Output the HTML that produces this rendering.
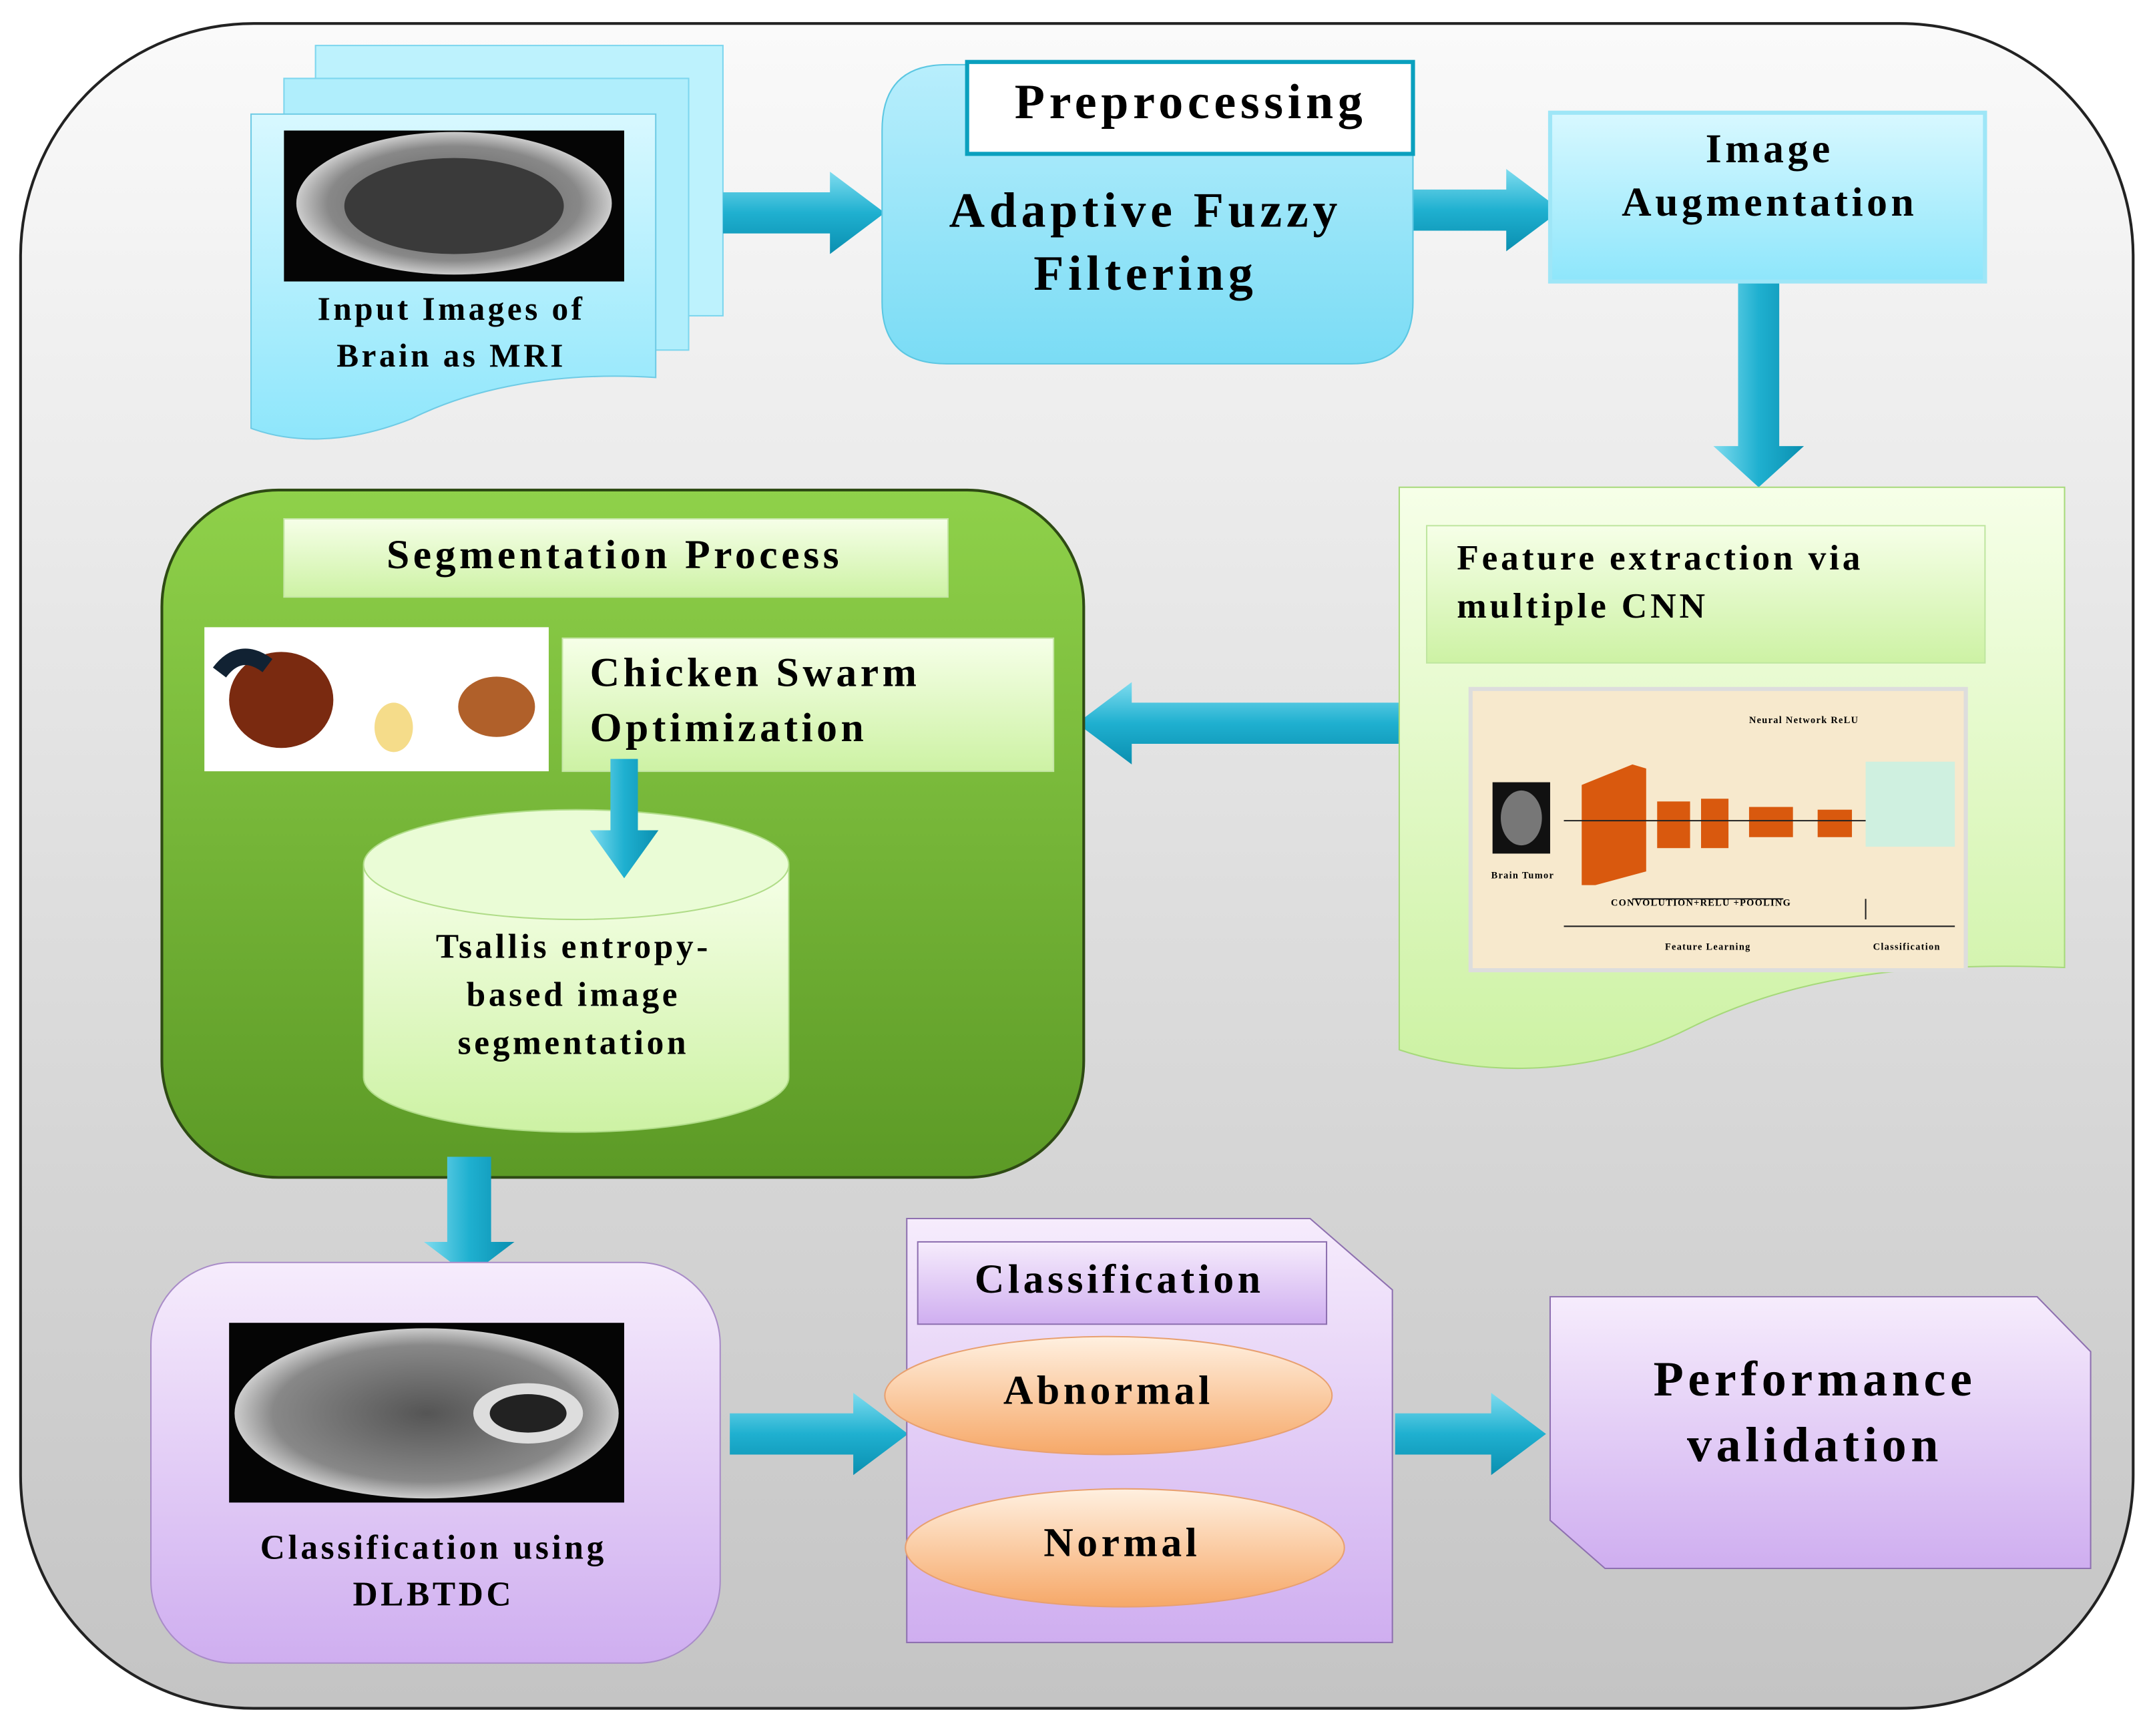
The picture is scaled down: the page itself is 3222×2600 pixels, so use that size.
<!DOCTYPE html>
<html><head><meta charset="utf-8"><style>html,body{margin:0;padding:0;background:#fff}svg{display:block}svg text{letter-spacing:0.09em}</style></head><body>
<svg width="3222" height="2600" viewBox="0 0 1568 1265" xmlns="http://www.w3.org/2000/svg" font-family="'Liberation Serif',serif" font-weight="bold">
<defs>
<linearGradient id="bg" x1="0" y1="0" x2="0" y2="1"><stop offset="0" stop-color="#fafafa"/><stop offset="1" stop-color="#c4c4c4"/></linearGradient>
<linearGradient id="cy" x1="0" y1="0" x2="0" y2="1"><stop offset="0" stop-color="#d8f8ff"/><stop offset="1" stop-color="#8ee6fb"/></linearGradient>
<linearGradient id="cy2" x1="0" y1="0" x2="0" y2="1"><stop offset="0" stop-color="#b8eefc"/><stop offset="1" stop-color="#7adcf5"/></linearGradient>
<linearGradient id="arh" x1="0" y1="0" x2="0" y2="1"><stop offset="0" stop-color="#7fdcef"/><stop offset="0.5" stop-color="#1fb0d0"/><stop offset="1" stop-color="#0a8fb0"/></linearGradient>
<linearGradient id="arv" x1="0" y1="0" x2="1" y2="0"><stop offset="0" stop-color="#7fdcef"/><stop offset="0.5" stop-color="#1fb0d0"/><stop offset="1" stop-color="#0a8fb0"/></linearGradient>
<linearGradient id="lg" x1="0" y1="0" x2="0" y2="1"><stop offset="0" stop-color="#f6ffe8"/><stop offset="1" stop-color="#cdf2a4"/></linearGradient>
<linearGradient id="gr" x1="0" y1="0" x2="0" y2="1"><stop offset="0" stop-color="#8fd14a"/><stop offset="1" stop-color="#5c9a26"/></linearGradient>
<linearGradient id="pu" x1="0" y1="0" x2="0" y2="1"><stop offset="0" stop-color="#f6ecfc"/><stop offset="1" stop-color="#cfaef0"/></linearGradient>
<linearGradient id="or" x1="0" y1="0" x2="0" y2="1"><stop offset="0" stop-color="#fff0e0"/><stop offset="1" stop-color="#f6a868"/></linearGradient>
<radialGradient id="brain" cx="0.5" cy="0.5" r="0.5"><stop offset="0" stop-color="#555"/><stop offset="0.8" stop-color="#888"/><stop offset="1" stop-color="#ccc"/></radialGradient>
</defs>
<rect x="15" y="17" width="1540" height="1228" rx="170" fill="url(#bg)" stroke="#222" stroke-width="2"/>

<rect x="230" y="33" width="297" height="197" fill="#bdf2fd" stroke="#7dd6ee"/>
<rect x="207" y="57" width="295" height="198" fill="#b0eefc" stroke="#7dd6ee"/>
<path d="M183 83 H478 V275 C400 270 340 285 300 305 C250 325 210 322 183 312 Z" fill="url(#cy)" stroke="#6fcbe5"/>
<rect x="207" y="95" width="248" height="110" fill="#050505"/>
<ellipse cx="331" cy="148" rx="115" ry="52" fill="url(#brain)"/>
<ellipse cx="331" cy="150" rx="80" ry="35" fill="#3a3a3a"/>
<text x="329" y="233" font-size="24" text-anchor="middle">Input  Images of</text>
<text x="329" y="267" font-size="24" text-anchor="middle">Brain  as MRI</text>

<polygon points="527,140 605,140 605,125 645,155 605,185 605,170 527,170" fill="url(#arh)"/>
<polygon points="1030,138 1098,138 1098,123 1138,153 1098,183 1098,168 1030,168" fill="url(#arh)"/>
<polygon points="1267,205 1297,205 1297,325 1315,325 1282,355 1249,325 1267,325" fill="url(#arv)"/>
<polygon points="1022,512 825,512 825,497 785,527 825,557 825,542 1022,542" fill="url(#arh)"/>

<path d="M643 95 Q643 47 690 47 H1030 V220 Q1030 265 985 265 H690 Q643 265 643 220 Z" fill="url(#cy2)" stroke="#5cc7e2"/>
<rect x="705" y="45" width="325" height="67" fill="#fff" stroke="#0aa0be" stroke-width="3"/>
<text x="868" y="86" font-size="36" text-anchor="middle">Preprocessing</text>
<text x="835" y="165" font-size="36" text-anchor="middle">Adaptive Fuzzy</text>
<text x="835" y="211" font-size="36" text-anchor="middle">Filtering</text>

<rect x="1130" y="82" width="317" height="123" fill="url(#cy)" stroke="#9ee6f7" stroke-width="3"/>
<text x="1290" y="118" font-size="30" text-anchor="middle">Image</text>
<text x="1290" y="157" font-size="30" text-anchor="middle">Augmentation</text>

<path d="M1020 355 H1505 V705 C1380 700 1300 715 1230 750 C1160 785 1080 785 1020 765 Z" fill="url(#lg)" stroke="#a6d97a"/>
<rect x="1040" y="383" width="407" height="100" fill="url(#lg)" stroke="#bfe6a0"/>
<text x="1062" y="415" font-size="26">Feature extraction via</text>
<text x="1062" y="450" font-size="26">multiple  CNN</text>
<rect x="1072" y="502" width="361" height="205" fill="#f7e9cd" stroke="#ddd" stroke-width="3"/>
<rect x="1088" y="570" width="42" height="52" fill="#111"/>
<ellipse cx="1109" cy="596" rx="15" ry="20" fill="#777"/>
<polygon points="1153,572 1190,557 1200,560 1200,635 1163,645 1153,645" fill="#d9590e"/>
<rect x="1208" y="584" width="24" height="34" fill="#d9590e"/>
<rect x="1240" y="582" width="20" height="36" fill="#d9590e"/>
<rect x="1275" y="588" width="32" height="22" fill="#d9590e"/>
<rect x="1325" y="590" width="25" height="20" fill="#d9590e"/>
<rect x="1360" y="555" width="65" height="62" fill="#cff0e0"/>
<line x1="1140" y1="598" x2="1360" y2="598" stroke="#222"/>
<path d="M1140 675 H1425 M1190 655 H1300 M1360 655 V670" stroke="#222" fill="none"/>
<text x="1110" y="640" font-size="7" text-anchor="middle">Brain Tumor</text>
<text x="1240" y="660" font-size="7" text-anchor="middle">CONVOLUTION+RELU +POOLING</text>
<text x="1245" y="692" font-size="7" text-anchor="middle">Feature Learning</text>
<text x="1390" y="692" font-size="7" text-anchor="middle">Classification</text>
<text x="1315" y="527" font-size="7" text-anchor="middle">Neural Network ReLU</text>

<rect x="118" y="357" width="672" height="501" rx="85" fill="url(#gr)" stroke="#2e4a14" stroke-width="2"/>
<rect x="207" y="378" width="484" height="57" fill="url(#lg)" stroke="#c5e6a6"/>
<text x="448" y="414" font-size="30" text-anchor="middle">Segmentation Process</text>
<rect x="149" y="457" width="251" height="105" fill="#fff"/>
<ellipse cx="205" cy="510" rx="38" ry="35" fill="#7a2a10"/>
<path d="M160 490 Q175 470 195 485" stroke="#123" stroke-width="12" fill="none"/>
<ellipse cx="287" cy="530" rx="14" ry="18" fill="#f5dc8a"/>
<ellipse cx="362" cy="515" rx="28" ry="22" fill="#b0602a"/>
<rect x="410" y="465" width="358" height="97" fill="url(#lg)" stroke="#c5e6a6"/>
<text x="430" y="500" font-size="30">Chicken Swarm</text>
<text x="430" y="540" font-size="30">Optimization</text>
<path d="M265 630 V785 A155 40 0 0 0 575 785 V630" fill="url(#lg)" stroke="#b0dc88"/>
<ellipse cx="420" cy="630" rx="155" ry="40" fill="#eafcd6" stroke="#b0dc88"/>
<polygon points="445,553 465,553 465,605 480,605 455,640 430,605 445,605" fill="url(#arv)"/>
<text x="418" y="698" font-size="25" text-anchor="middle">Tsallis  entropy-</text>
<text x="418" y="733" font-size="25" text-anchor="middle">based image</text>
<text x="418" y="768" font-size="25" text-anchor="middle">segmentation</text>

<polygon points="326,843 358,843 358,905 375,905 342,930 309,905 326,905" fill="url(#arv)"/>

<rect x="110" y="920" width="415" height="292" rx="60" fill="url(#pu)" stroke="#a98cc8"/>
<rect x="167" y="964" width="288" height="131" fill="#050505"/>
<ellipse cx="311" cy="1030" rx="140" ry="62" fill="url(#brain)"/>
<ellipse cx="385" cy="1030" rx="40" ry="22" fill="#ddd"/>
<ellipse cx="385" cy="1030" rx="28" ry="14" fill="#222"/>
<text x="316" y="1136" font-size="25" text-anchor="middle">Classification  using</text>
<text x="316" y="1170" font-size="25" text-anchor="middle">DLBTDC</text>

<polygon points="532,1030 622,1030 622,1015 662,1045 622,1075 622,1060 532,1060" fill="url(#arh)"/>
<polygon points="1017,1030 1087,1030 1087,1015 1127,1045 1087,1075 1087,1060 1017,1060" fill="url(#arh)"/>

<path d="M661 888 H955 L1015 940 V1197 H661 Z" fill="url(#pu)" stroke="#8e70b0"/>
<rect x="669" y="905" width="298" height="60" fill="url(#pu)" stroke="#8e70b0"/>
<text x="816" y="942" font-size="30" text-anchor="middle">Classification</text>
<ellipse cx="808" cy="1017" rx="163" ry="43" fill="url(#or)" stroke="#e8a070"/>
<text x="808" y="1023" font-size="30" text-anchor="middle">Abnormal</text>
<ellipse cx="820" cy="1128" rx="160" ry="43" fill="url(#or)" stroke="#e8a070"/>
<text x="818" y="1134" font-size="30" text-anchor="middle">Normal</text>

<path d="M1130 945 H1485 L1524 985 V1143 H1170 L1130 1108 Z" fill="url(#pu)" stroke="#8e70b0"/>
<text x="1323" y="1017" font-size="36" text-anchor="middle">Performance</text>
<text x="1323" y="1065" font-size="36" text-anchor="middle">validation</text>
</svg>
</body></html>
